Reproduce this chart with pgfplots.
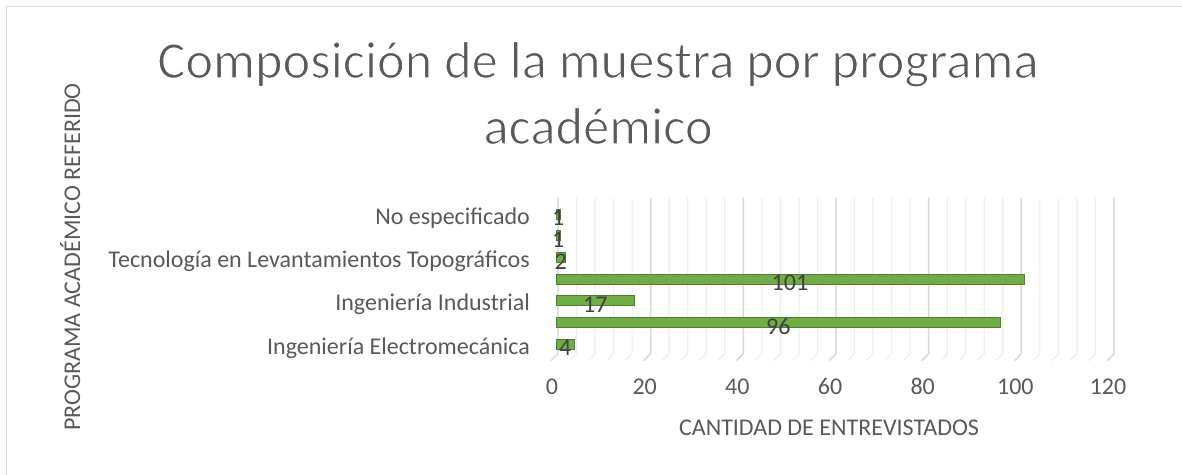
\documentclass[border=0pt]{standalone}
\usepackage{pgfplots}
\pgfplotsset{compat=1.18}
\usepackage{pgfplotstable}
\usepackage{fontspec}
\setmainfont{Carlito}
\definecolor{txt}{HTML}{595959}
\definecolor{lbl}{HTML}{404040}
\definecolor{barg}{HTML}{70AD47}
\definecolor{bard}{HTML}{507E32}
\definecolor{gmin}{HTML}{EEEEEE}
\definecolor{gmaj}{HTML}{D9D9D9}
\newcommand\lighttext[1]{\special{pdf:literal direct 2 Tr 1 1 1 RG 1.1 w}#1\special{pdf:literal direct 0 Tr}}
\pgfplotstableread{
y v h
0 4 2
1 96 48
2 17 8.5
3 101 50.5
4 2 1
5 1 0.5
6 1 0.5
}\datatab
\begin{document}
\begin{tikzpicture}[x=1pt,y=1pt]
\path[use as bounding box] (0,0) rectangle (1182,474);
\draw[gmaj, line width=1pt] (6,-10) -- (6,467) -- (1200,467);
\begin{axis}[
  at={(556pt,120.25pt)}, anchor=south west,
  scale only axis, width=556pt, height=156pt,
  xmin=0, xmax=120, ymin=-0.45, ymax=6.75,
  axis line style={draw=none},
  major tick length=0pt,
  xtick={0,20,...,120},
  ytick={0,2,4,6},
  yticklabels={Ingeniería Electromecánica, Ingeniería Industrial, Tecnología en Levantamientos Topográficos, No especificado},
  /pgf/number format/assume math mode=true,
  tick label style={font=\fontsize{24}{28}\selectfont, text=txt, inner sep=0pt},
  xticklabel style={anchor=center, yshift=-33pt, xshift=-4pt},
  yticklabel style={anchor=east, xshift=-26pt, yshift=-4pt},
  clip=false,
]
\pgfplotsinvokeforeach{0,4,...,120}{
  \draw[gmin, line width=1.2pt] ([xshift=2pt]axis cs:#1,6.75) -- ([xshift=2pt]axis cs:#1,-0.45) -- ([xshift=-5pt,yshift=-7pt]axis cs:#1,-0.45);
}
\pgfplotsinvokeforeach{0,20,...,120}{
  \draw[gmaj, line width=1.4pt] ([xshift=2pt]axis cs:#1,6.75) -- ([xshift=2pt]axis cs:#1,-0.45) -- ([xshift=-5pt,yshift=-7pt]axis cs:#1,-0.45);
}
\addplot[xbar, bar width=10pt, fill=barg, draw=bard, line width=0.8pt] table[x=v, y=y] {\datatab};
\addplot[draw=none, mark=none, point meta=explicit,
  nodes near coords={\pgfmathprintnumber{\pgfplotspointmeta}},
  every node near coord/.append style={anchor=center, yshift=-4pt, inner sep=0pt, font=\fontsize{24}{28}\selectfont, text=lbl, /pgf/number format/assume math mode=true}]
  table[x=h, y=y, meta=v] {\datatab};
\end{axis}
\node[anchor=base, text=txt, font=\fontsize{52.5}{60}\selectfont] at (598,396) {\lighttext{Composición de la muestra por programa}};
\node[anchor=base, text=txt, font=\fontsize{52.5}{60}\selectfont] at (598,330) {\lighttext{académico}};
\node[anchor=base, text=txt, font=\fontsize{24}{28}\selectfont] at (829,39) {CANTIDAD DE ENTREVISTADOS};
\node[anchor=base, rotate=90, text=txt, font=\fontsize{24}{28}\selectfont] at (80,217) {PROGRAMA ACADÉMICO REFERIDO};
\end{tikzpicture}
\end{document}
